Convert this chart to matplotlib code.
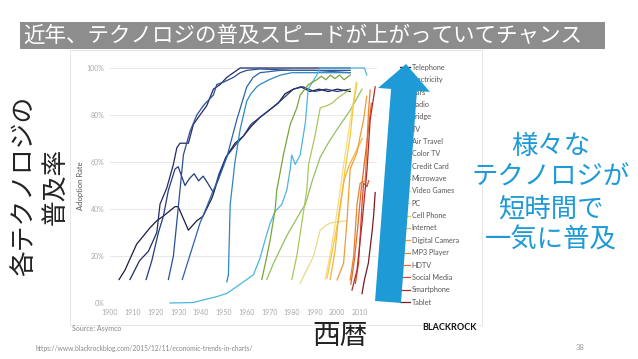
import matplotlib.pyplot as plt
from matplotlib.patches import FancyArrow, Rectangle

plt.rcParams['font.family'] = ['Lato', 'Noto Sans CJK JP', 'DejaVu Sans']

# ---------------- data ----------------
telephone_yr = [1904, 1906.6, 1911.7, 1917.6, 1920.6, 1923.5, 1928.6, 1930, 1934.5, 1938.2, 1941, 1945, 1948, 1951,
                1955, 1958.7, 1962, 1966, 1970, 1974, 1977, 1980.7, 1984, 1988, 1992, 1996, 2000, 2005.7]
telephone_pct = [10, 14, 25, 32, 35, 37, 41, 41, 31, 35, 37, 45, 54, 62, 68, 71, 75, 79, 82, 85, 89, 91, 92, 90,
                 91, 90, 91, 90]

electricity_yr = [1908.8, 1913, 1916.9, 1920.6, 1922, 1925, 1927.9, 1929.4, 1930.8, 1934.5, 1936.7, 1939.6, 1942.6,
                  1945.5, 1948.5, 1951.4, 1954.3, 1957.3, 1970, 1990, 2005.7]
electricity_pct = [10, 18, 22, 30, 42, 49, 59, 66, 68, 68, 76, 80, 84, 91, 93, 96, 98, 100, 100, 100, 100]

cars_yr = [1915.9, 1918.4, 1921.3, 1923.5, 1925.7, 1928.6, 1930, 1933, 1935, 1937, 1939, 1941, 1943, 1945.5, 1948,
           1951, 1955, 1958.7, 1962, 1966, 1970, 1975, 1980.7, 1985, 1990, 1995, 2000, 2005.7]
cars_pct = [10, 18, 30, 37, 48, 57, 58, 50, 53, 55, 52, 54, 51, 47, 55, 62, 67, 71, 76, 79, 82, 86, 91, 92, 90, 91,
            90, 91]

radio_yr = [1925.7, 1927.9, 1930.8, 1932.3, 1935.2, 1938.2, 1941.1, 1945.5, 1947, 1950, 1954.3, 1957.3, 1960.2, 1966,
            1980, 1995, 2005.7]
radio_pct = [10, 20, 48, 63, 73, 80, 84, 88.5, 93, 94, 96, 98, 99, 99.6, 99, 99, 99]

fridge_yr = [1931.8, 1936.7, 1939.6, 1942.6, 1945.5, 1947.5, 1951.4, 1955.8, 1960.2, 1963, 1966, 1975, 1990, 2005.7]
fridge_pct = [10, 25, 34, 41, 48, 52, 62, 78, 92, 96, 98, 99, 99, 98]

tv_yr = [1951.4, 1952.1, 1952.9, 1955, 1957.3, 1960.2, 1962, 1964.6, 1966, 1970, 1975, 1980, 1990, 2000, 2005.7]
tv_pct = [9, 12, 42, 60, 74, 86, 89, 92, 93, 95, 97, 98, 98, 98, 98]

air_yr = [1926.4, 1936.7, 1941, 1947, 1951.4, 1955.8, 1960.2, 1963.1, 1966, 1968.3, 1970.5, 1972.7, 1975.6, 1977.8,
          1979.3, 1980, 1981.5, 1983.7, 1986, 1987.2, 1991, 1992.5, 2000, 2008, 2012, 2013]
air_pct = [0, 0.2, 1.3, 2.7, 4.1, 7, 10, 12, 19, 27, 34, 39, 42, 48, 57, 63, 59, 63, 77, 91, 97, 100, 100, 100, 100, 97]

colortv_yr = [1966.8, 1969, 1970.5, 1972.7, 1973.4, 1976.3, 1979.3, 1982.2, 1983.7, 1987.4, 1991, 1993, 1995, 1997,
              1999, 2001, 2003, 2005.7]
colortv_pct = [10, 19.7, 27, 40, 48, 63, 76, 83, 88.5, 93, 95, 96.5, 95, 97, 95.5, 97, 95, 97]

credit_yr = [1969, 1972, 1975, 1978, 1981, 1984, 1986, 1989, 1992.5, 1996, 2000, 2005.7, 2010.9]
credit_pct = [10, 17, 23, 29, 34, 39, 42, 52, 62, 68, 74, 82, 91]

microwave_yr = [1980, 1982.2, 1984.4, 1986.6, 1987.4, 1990.3, 1992.5, 1995.5, 1997.7, 1999.9, 2004.3, 2005.7]
microwave_pct = [10, 20, 34, 48, 59, 71.5, 83, 84, 85, 87, 90, 91]

games_yr = [1983.7, 1986, 1989.6, 1992.5, 1995, 1996.9, 2000, 2004.3]
games_pct = [8.4, 13, 20, 31, 33, 34, 34.5, 35]

pc_yr = [1994.7, 1997, 1999, 2001, 2003, 2005, 2007, 2008.3]
pc_pct = [10, 21, 33, 46, 60, 73, 85, 94]

cell_yr = [1995.5, 1998.4, 2001.3, 2003.5, 2005.7, 2007.2, 2008.7]
cell_pct = [10.5, 25, 40, 57, 71, 85, 93.5]

internet_yr = [1996.9, 1999, 2001, 2003, 2005, 2007, 2009, 2011]
internet_pct = [10, 22, 40, 52, 58, 62, 66, 70]

camera_yr = [1999.9, 2002.8, 2004.3, 2005.7, 2008.7, 2010.1, 2011.6, 2013]
camera_pct = [9.8, 17, 35, 57, 64, 71, 78, 88]

mp3_yr = [2005.7, 2007.2, 2008.7, 2010.1, 2012.3, 2013.8, 2014.5]
mp3_pct = [9.8, 19.7, 42, 51, 52, 82, 90.6]

hdtv_yr = [2006, 2007.5, 2009, 2010.5, 2012, 2013.5, 2015]
hdtv_pct = [8, 18, 32, 48, 60, 72, 85]

social_yr = [2008, 2009.4, 2010.9, 2011.6, 2013.1, 2013.8]
social_pct = [8.4, 17, 42, 51, 49.5, 52]

smart_yr = [2006.5, 2008.7, 2010.9, 2013.1, 2014.5, 2016.7]
smart_pct = [5.5, 14, 34, 56.6, 78, 92]

tablet_yr = [2010.9, 2012, 2013.7, 2015.3, 2016, 2016.7]
tablet_pct = [4, 10, 17, 30, 37, 47]

labels = ["Telephone", "Electricity", "Cars", "Radio", "Fridge", "TV", "Air Travel", "Color TV", "Credit Card",
          "Microwave", "Video Games", "PC", "Cell Phone", "Internet", "Digital Camera", "MP3 Player", "HDTV",
          "Social Media", "Smartphone", "Tablet"]
colors = ["#1b1d3c", "#222a63", "#263a80", "#2b4e96", "#2c62a8", "#2f86c0", "#4bb6de", "#7aa33c", "#93c060",
          "#a9c85c", "#e3dc8a", "#f6dc7c", "#f5c83e", "#f3b33c", "#f09c36", "#eb8131", "#e26a2d", "#d54a2a",
          "#b02a2d", "#7a1b24"]
series = [(telephone_yr, telephone_pct), (electricity_yr, electricity_pct), (cars_yr, cars_pct),
          (radio_yr, radio_pct), (fridge_yr, fridge_pct), (tv_yr, tv_pct), (air_yr, air_pct),
          (colortv_yr, colortv_pct), (credit_yr, credit_pct), (microwave_yr, microwave_pct),
          (games_yr, games_pct), (pc_yr, pc_pct), (cell_yr, cell_pct), (internet_yr, internet_pct),
          (camera_yr, camera_pct), (mp3_yr, mp3_pct), (hdtv_yr, hdtv_pct), (social_yr, social_pct),
          (smart_yr, smart_pct), (tablet_yr, tablet_pct)]

# ---------------- figure ----------------
W, H = 638, 359
fig = plt.figure(figsize=(W / 100, H / 100), dpi=100)

ax = fig.add_axes([110 / W, (H - 303) / H, 267 / W, 235 / H])
handles = []
for (yr, pct), lab, col in zip(series, labels, colors):
    ln, = ax.plot(yr, pct, color=col, lw=0.9, label=lab, clip_on=False)
    handles.append(ln)

ax.set_xlim(1900, 2017.5)
ax.set_ylim(0, 100)
ax.set_xticks(range(1900, 2011, 10))
ax.set_yticks(range(0, 101, 20))
ax.set_yticklabels([f"{v}%" for v in range(0, 101, 20)])
ax.tick_params(length=0, labelsize=5, colors="#a8a8a8", pad=4)
ax.grid(axis="y", color="#e4e4e4", lw=0.6)
ax.set_axisbelow(True)
for s in ax.spines.values():
    s.set_visible(False)
ax.set_ylabel("Adoption Rate", fontsize=5.5, color="#555555", labelpad=2)

leg = ax.legend(handles=handles, loc="upper left", bbox_to_anchor=(400 / W, (H - 64) / H),
                bbox_transform=fig.transFigure, frameon=False, fontsize=5.2, handlelength=1.4,
                handletextpad=0.2, labelspacing=0.74, borderpad=0, borderaxespad=0)
for t in leg.get_texts():
    t.set_color("#555555")

# ---------------- overlay (pixel coordinates) ----------------
ov = fig.add_axes([0, 0, 1, 1], zorder=5)
ov.set_xlim(0, W)
ov.set_ylim(H, 0)
ov.axis("off")
ov.patch.set_visible(False)

ov.add_patch(Rectangle((70, 50), 412, 275, fill=False, ec="#e2e2e2", lw=0.6))
ov.add_patch(Rectangle((20, 22), 585, 27, color="#8d8d8d", lw=0))
ov.text(303, 35.5, "近年、テクノロジの普及スピードが上がっていてチャンス", color="white", fontsize=15.5,
        ha="center", va="center", family=["Noto Sans CJK JP"])

ov.add_patch(FancyArrow(388, 302, 18, -238, width=26, head_width=52, head_length=26,
                        length_includes_head=True, color="#1e9bd7", lw=0))

ov.text(40, 186, "各テクノロジの\n普及率", rotation=90, fontsize=18.5, ha="center", va="center",
        multialignment="center", linespacing=1.25, color="#222222", family=["Noto Sans CJK JP"])
ov.text(551, 193, "様々な\nテクノロジが\n短時間で\n一気に普及", fontsize=19, ha="center", va="center",
        multialignment="center", linespacing=1.2, color="#1e9bd7", family=["Noto Sans CJK JP"])
ov.text(340, 336, "西暦", fontsize=20, ha="center", va="center", color="#222222",
        family=["Noto Sans CJK JP"])

ov.text(72, 328, "Source: Asymco", fontsize=5, color="#888888", ha="left", va="center")
ov.text(36, 348, "https://www.blackrockblog.com/2015/12/11/economic-trends-in-charts/", fontsize=4.8,
        color="#888888", ha="left", va="center")
ov.text(449, 328, "BLACKROCK", fontsize=6.5, color="#111111", ha="center", va="center", weight="bold")
ov.text(580, 348, "38", fontsize=5.5, color="#999999", ha="center", va="center")

fig.savefig("out.png", dpi=100)
